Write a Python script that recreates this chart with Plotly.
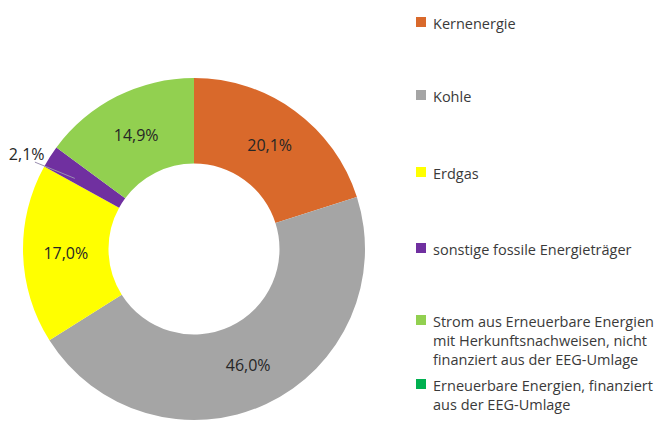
import math
import plotly.graph_objects as go

# ---- data ----
labels = [
    "Kernenergie",
    "Kohle",
    "Erdgas",
    "sonstige fossile Energieträger",
    "Strom aus Erneuerbare Energien mit Herkunftsnachweisen, nicht finanziert aus der EEG-Umlage",
    "Erneuerbare Energien, finanziert aus der EEG-Umlage",
]
legend_text = [
    "Kernenergie",
    "Kohle",
    "Erdgas",
    "sonstige fossile Energieträger",
    "Strom aus Erneuerbare Energien<br>mit Herkunftsnachweisen, nicht<br>finanziert aus der EEG-Umlage",
    "Erneuerbare Energien, finanziert<br>aus der EEG-Umlage",
]
values = [20.1, 46.0, 17.0, 2.1, 14.9, 0.0]
value_text = ["20,1%", "46,0%", "17,0%", "2,1%", "14,9%", ""]

# ---- styles ----
colors = ["#D9692B", "#A5A5A5", "#FFFF00", "#7030A0", "#92D050", "#00B050"]
text_positions = ["inside", "inside", "inside", "outside", "inside", "none"]
legend_first_line_px = [22, 95, 172, 248, 320, 384]

W, H = 664, 426
CX, CY, R = 194, 249, 171  # pie centre / radius in pixels (layout)

fig = go.Figure()
fig.add_trace(go.Pie(
    labels=labels,
    values=values,
    text=value_text,
    textinfo="text",
    textposition=text_positions,
    insidetextorientation="horizontal",
    textfont=dict(family="Open Sans", size=16, color="#262626"),
    marker=dict(colors=colors, line=dict(width=0)),
    hole=0.5,
    sort=False,
    direction="clockwise",
    rotation=0,
    showlegend=False,
    domain=dict(x=[(CX - R) / W, (CX + R) / W], y=[1 - (CY + R) / H, 1 - (CY - R) / H]),
    automargin=False,
))

shapes = []
annotations = []

# leader line for the small outside-labelled slice (angles derived from values)
total = sum(values)
start = 0.0
for i, v in enumerate(values):
    ang = 360.0 * v / total
    if text_positions[i] == "outside":
        mid = start + ang / 2.0

        def pt(r, a):
            rad = math.radians(a)
            return (CX + r * math.sin(rad)) / W, 1 - (CY - r * math.cos(rad)) / H

        x0, y0 = pt(1.06 * R, mid - 4)
        x1, y1 = pt(0.81 * R, mid - 2)
        shapes.append(dict(type="line", xref="paper", yref="paper",
                           x0=x0, y0=y0, x1=x1, y1=y1,
                           line=dict(color="#9a8fb0", width=1)))
    start += ang

for txt, col, ypx in zip(legend_text, colors, legend_first_line_px):
    shapes.append(dict(
        type="rect", xref="paper", yref="paper",
        x0=416 / W, x1=426 / W, y0=1 - (ypx + 5) / H, y1=1 - (ypx - 5) / H,
        fillcolor=col, line=dict(width=0),
    ))
    annotations.append(dict(
        xref="paper", yref="paper", x=431 / W, y=1 - (ypx - 10) / H,
        xanchor="left", yanchor="top", align="left", showarrow=False,
        text=txt, font=dict(family="Open Sans", size=14.5, color="#3a3a3a"),
    ))

fig.update_layout(
    width=W, height=H,
    margin=dict(l=0, r=0, t=0, b=0),
    paper_bgcolor="white", plot_bgcolor="white",
    shapes=shapes, annotations=annotations,
)

fig.write_html("out.html")
